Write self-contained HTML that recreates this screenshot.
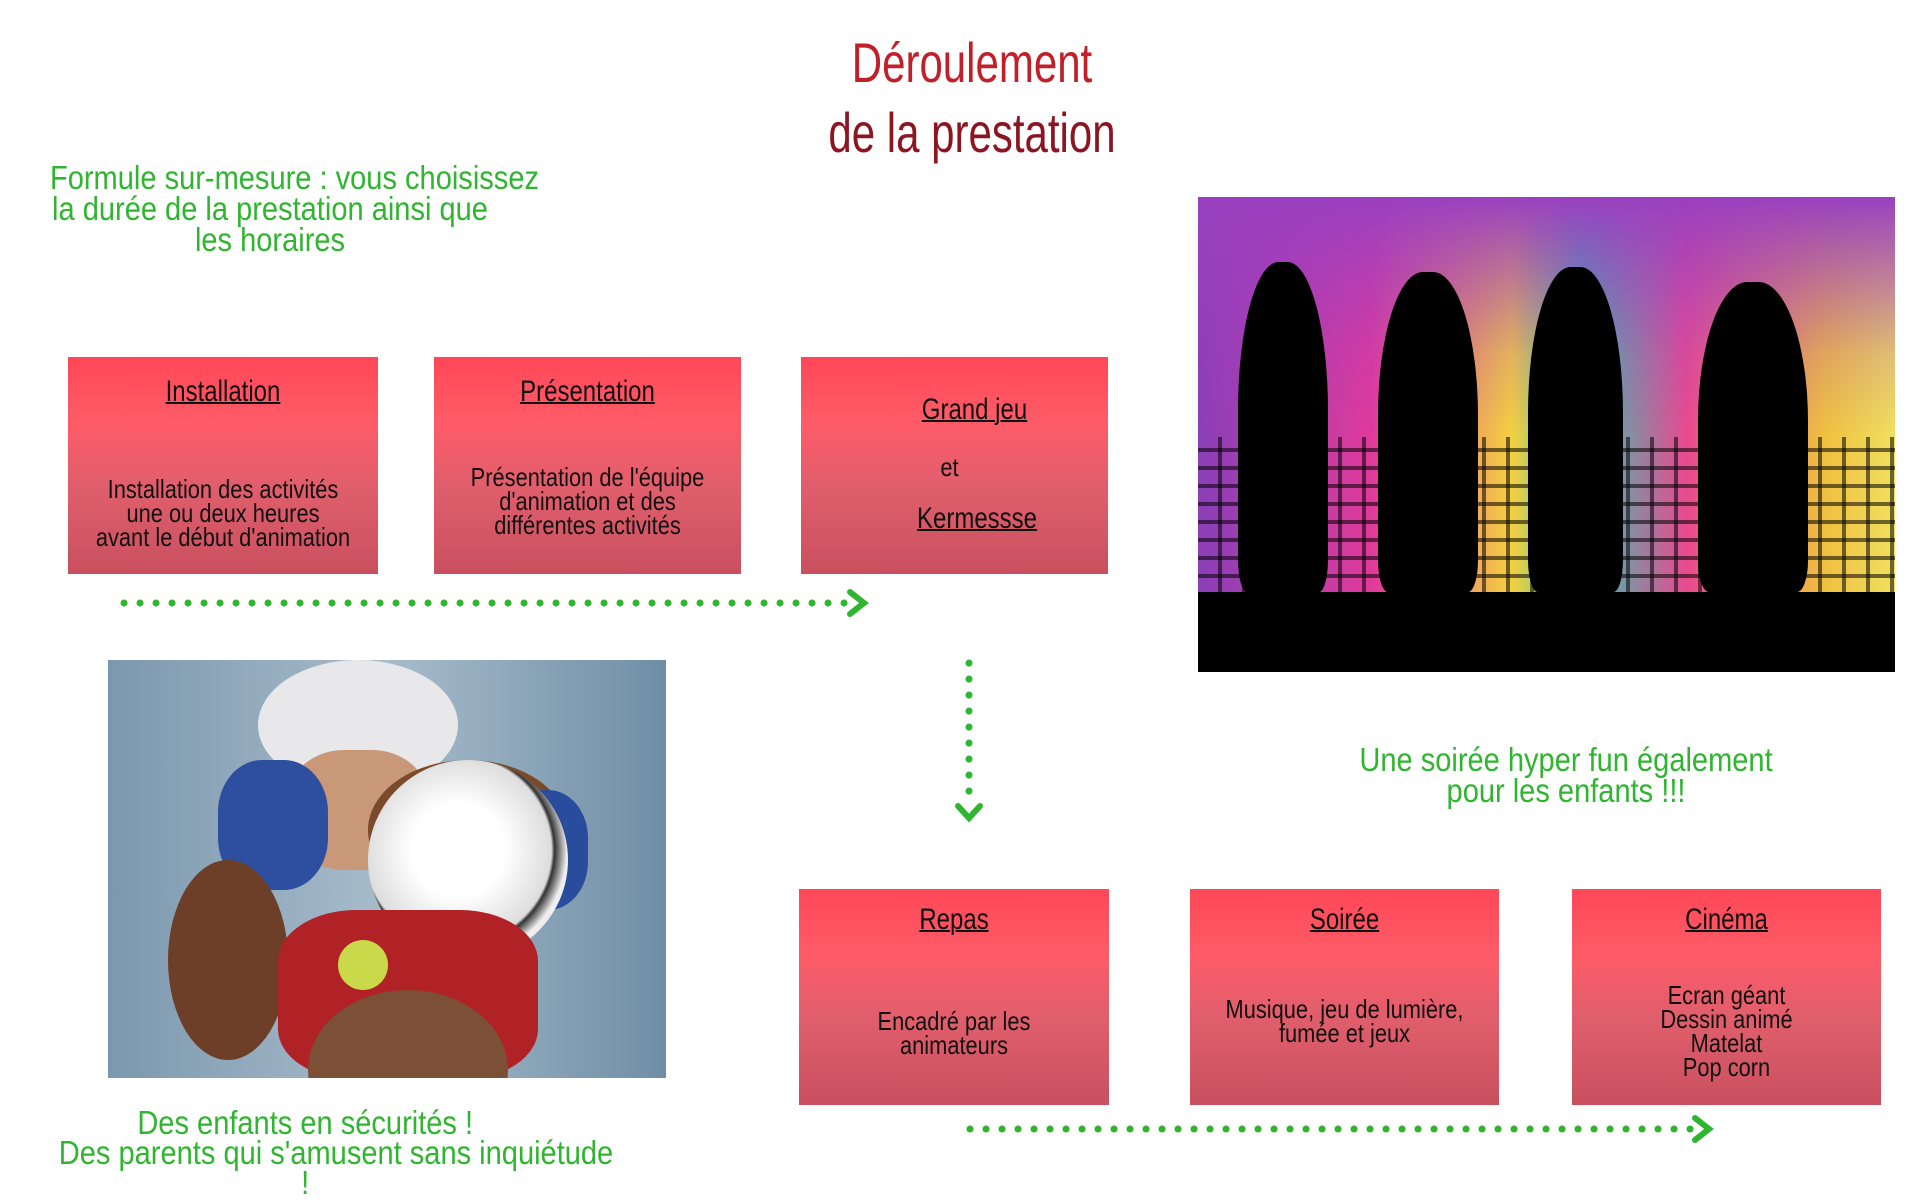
<!DOCTYPE html>
<html><head><meta charset="utf-8"><style>
body{margin:0;width:1920px;height:1200px;background:#fff;position:relative;overflow:hidden;font-family:"Liberation Sans Narrow","Liberation Sans",sans-serif;}
.t{position:absolute;text-align:center;white-space:nowrap;transform-origin:center top;}
.box{position:absolute;background:linear-gradient(#ff4757 0%,#ff5b68 30%,#e05e6c 60%,#c9505f 100%);color:#111;text-align:center;}
.box .h{position:absolute;left:0;right:0;font-size:30px;text-decoration:underline;text-decoration-thickness:2px;transform:scaleX(.8);}
.box .b{position:absolute;left:0;right:0;font-size:26px;line-height:24px;transform:scaleX(.84);}
.g{color:#2fb52f;font-size:33px;line-height:31px;transform:scaleX(.88);}
</style></head><body>
<div class="t" style="left:0;width:1944px;top:28px;font-size:56px;color:#c0202a;line-height:70px;transform:scaleX(.75)">Déroulement<br><span style="color:#8b1520">de la prestation</span></div>
<div class="t g" style="left:20px;width:500px;top:162px;">Formule sur-mesure : vous choisissez<br>la durée de la prestation ainsi que<br>les horaires</div>

<div class="box" style="left:68px;top:357px;width:310px;height:217px;"><div class="h" style="top:18px">Installation </div><div class="b" style="top:120px">Installation des activités<br>une ou deux heures<br>avant le début d'animation</div></div>
<div class="box" style="left:434px;top:357px;width:307px;height:217px;"><div class="h" style="top:18px">Présentation </div><div class="b" style="top:108px">Présentation de l'équipe<br>d'animation et des<br>différentes activités</div></div>
<div class="box" style="left:801px;top:357px;width:307px;height:217px;"><div class="h" style="top:36px;left:90px;right:50px">Grand jeu </div><div class="b" style="top:98px;left:-10px">et</div><div class="h" style="top:145px;left:90px;right:45px">Kermessse </div></div>

<div class="box" style="left:799px;top:889px;width:310px;height:216px;"><div class="h" style="top:14px">Repas </div><div class="b" style="top:120px">Encadré par les<br>animateurs</div></div>
<div class="box" style="left:1190px;top:889px;width:309px;height:216px;"><div class="h" style="top:14px">Soirée </div><div class="b" style="top:108px">Musique, jeu de lumière,<br>fumée et jeux</div></div>
<div class="box" style="left:1572px;top:889px;width:309px;height:216px;"><div class="h" style="top:14px">Cinéma </div><div class="b" style="top:94px">Ecran géant<br>Dessin animé<br>Matelat<br>Pop corn</div></div>

<svg style="position:absolute;left:0;top:0" width="1920" height="1200">
<line x1="124" y1="603" x2="855" y2="603" stroke="#2fb52f" stroke-width="7" stroke-linecap="round" stroke-dasharray="0.1 15.9"/>
<polyline points="850,592 864,603 850,614" fill="none" stroke="#2fb52f" stroke-width="6" stroke-linecap="round"/>
<line x1="969" y1="663" x2="969" y2="806" stroke="#2fb52f" stroke-width="7" stroke-linecap="round" stroke-dasharray="0.1 15.9"/>
<polyline points="958,806 969,818 980,806" fill="none" stroke="#2fb52f" stroke-width="6" stroke-linecap="round"/>
<line x1="970" y1="1129" x2="1700" y2="1129" stroke="#2fb52f" stroke-width="7" stroke-linecap="round" stroke-dasharray="0.1 15.9"/>
<polyline points="1695,1118 1709,1129 1695,1140" fill="none" stroke="#2fb52f" stroke-width="6" stroke-linecap="round"/>
</svg>

<!-- sports photo -->
<div style="position:absolute;left:108px;top:660px;width:558px;height:418px;background:linear-gradient(90deg,#7c98ae,#a8bccb 50%,#6f8ea6);overflow:hidden">
<div style="position:absolute;left:150px;top:0;width:200px;height:130px;border-radius:50%;background:#e8e8ea"></div>
<div style="position:absolute;left:180px;top:90px;width:140px;height:120px;border-radius:40%;background:#c89878"></div>
<div style="position:absolute;left:260px;top:100px;width:200px;height:140px;border-radius:50%;background:#7a4a2a"></div>
<div style="position:absolute;left:110px;top:100px;width:110px;height:130px;border-radius:40%;background:#2e4fa0"></div>
<div style="position:absolute;left:380px;top:130px;width:100px;height:120px;border-radius:40%;background:#2a4c9c"></div>
<div style="position:absolute;left:260px;top:100px;width:200px;height:200px;border-radius:50%;background:radial-gradient(circle at 45% 45%,#fff 30%,#ddd 60%,#333 62%,#eee 70%)"></div>
<div style="position:absolute;left:60px;top:200px;width:120px;height:200px;border-radius:50%;background:#6e3f28"></div>
<div style="position:absolute;left:170px;top:250px;width:260px;height:170px;background:#b02226;border-radius:30%"></div>
<div style="position:absolute;left:200px;top:330px;width:200px;height:160px;border-radius:50%;background:#7c5036"></div>
<div style="position:absolute;left:230px;top:280px;width:50px;height:50px;border-radius:50%;background:#c9d94a"></div>
</div>

<!-- disco photo -->
<div style="position:absolute;left:1198px;top:197px;width:697px;height:475px;background:#000;overflow:hidden">
<div style="position:absolute;left:0;top:0;width:697px;height:395px;background:linear-gradient(90deg,#8a3fb8,#e03a9a 25%,#f5d040 45%,#30c8b0 55%,#e84a90 70%,#f0c040 90%,#f0e060)"></div>
<div style="position:absolute;left:0;top:0;width:697px;height:395px;background:linear-gradient(#9a40c0 0%,rgba(160,60,200,0.2) 40%,rgba(0,0,0,0) 60%)"></div>
<div style="position:absolute;left:0;top:240px;width:697px;height:155px;background:repeating-linear-gradient(90deg,transparent 0 20px,rgba(0,0,0,.55) 20px 24px),repeating-linear-gradient(0deg,transparent 0 14px,rgba(0,0,0,.55) 14px 18px)"></div>
<div style="position:absolute;left:40px;top:65px;width:90px;height:330px;background:#000;border-radius:45% 45% 10% 10%"></div>
<div style="position:absolute;left:180px;top:75px;width:100px;height:320px;background:#000;border-radius:45% 45% 10% 10%"></div>
<div style="position:absolute;left:330px;top:70px;width:95px;height:325px;background:#000;border-radius:45% 45% 10% 10%"></div>
<div style="position:absolute;left:500px;top:85px;width:110px;height:310px;background:#000;border-radius:45% 45% 10% 10%"></div>
</div>

<div class="t g" style="left:1316px;width:500px;top:744px;">Une soirée hyper fun également<br>pour les enfants !!!</div>
<div class="t g" style="left:64px;width:500px;top:1108px;line-height:30px;"><span style="margin-left:-20px">Des enfants en sécurités !</span><br><span style="margin-left:-40px">Des parents qui s'amusent sans inquiétude</span><br><span style="margin-left:-20px">!</span></div>
</body></html>
